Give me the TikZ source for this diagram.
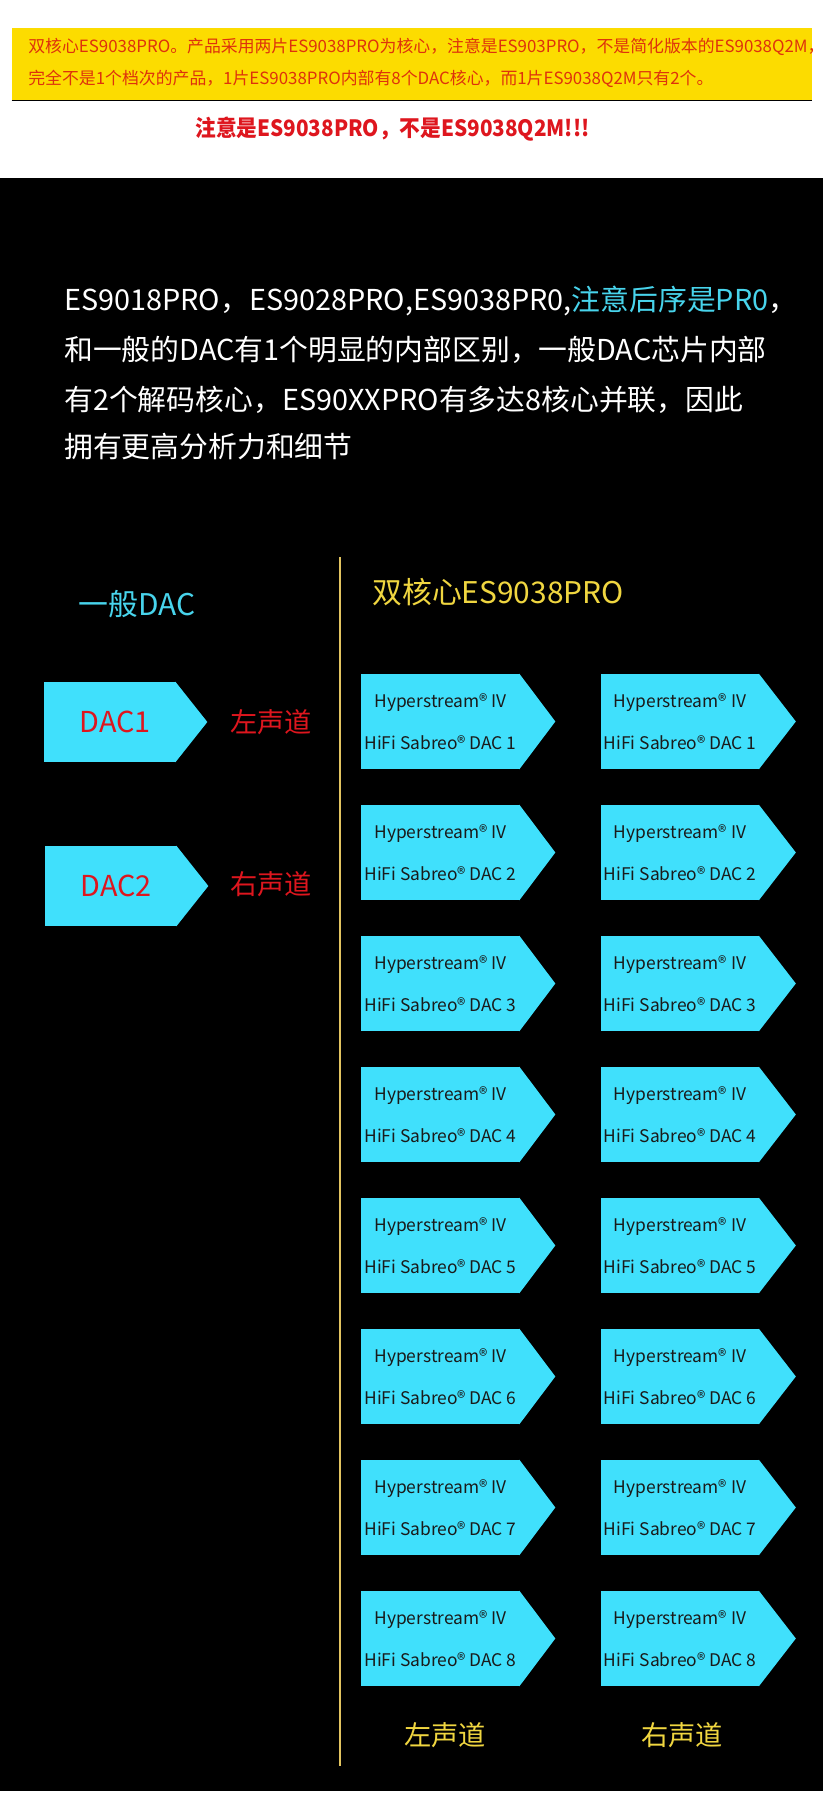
\documentclass[tikz,border=0pt]{standalone}
\usepackage{fontspec}
\setmainfont{Noto Sans CJK SC}
\usepackage{xcolor}
\definecolor{dcyan}{RGB}{64,224,252}
\definecolor{dcyantext}{RGB}{72,212,236}
\definecolor{dyellow}{RGB}{240,214,64}
\definecolor{dred}{RGB}{222,22,30}
\definecolor{dbanner}{RGB}{252,220,0}
\definecolor{dbannertext}{RGB}{222,50,12}
\definecolor{dgold}{RGB}{226,196,96}
\definecolor{dboxtext}{RGB}{26,26,26}
\usetikzlibrary{positioning,calc}

\tikzset{
  coreblock/.style={fill=dcyan,inner sep=0pt,minimum width=3.18cm,minimum height=1.9cm,
        align=center,text=dboxtext,font=\fontsize{9.9}{23.8}\selectfont},
  dacblock/.style={fill=dcyan,inner sep=0pt,minimum width=2.64cm,minimum height=1.6cm,
        text=dred,font=\fontsize{16.4}{18}\selectfont},
  chanlabel/.style={font=\fontsize{15.5}{18}\selectfont},
  introline/.style={anchor=west,text=white,inner sep=0pt,font=\fontsize{16.4}{20}\selectfont}
}

\begin{document}
\begin{tikzpicture}[x=0.02cm,y=-0.02cm]
  \useasboundingbox (0,0) rectangle (823,1817);
  % page background
  \fill[white] (0,0) rectangle (823,1817);
  \fill[black] (0,178) rectangle (823,1791);

  % Banner (top)
  \node[fill=dbanner,minimum width=16cm,minimum height=1.44cm,inner sep=0pt]
        (banner) at (412,64) {};
  \draw[black,thick] (banner.south west) -- (banner.south east);
  \node[anchor=west,inner sep=0pt,text=dbannertext,font=\fontsize{9.6}{12}\selectfont]
        (bannerA) at (28,47) {双核心ES9038PRO。产品采用两片ES9038PRO为核心，注意是ES903PRO，不是简化版本的ES9038Q2M，};
  \node[anchor=west,inner sep=0pt,text=dbannertext,font=\fontsize{9.6}{12}\selectfont]
        (bannerB) at (28,79) {完全不是1个档次的产品，1片ES9038PRO内部有8个DAC核心，而1片ES9038Q2M只有2个。};
  % Notice
  \node[anchor=west,inner sep=0pt,text=dred,font=\fontsize{12.8}{15}\selectfont\bfseries]
        (notice) at (195,129) {\scalebox{0.92}[1]{注意是ES9038PRO，不是ES9038Q2M!!!}};

  % Intro paragraph
  \node[introline] (introA) at (64,301) {ES9018PRO，ES9028PRO,ES9038PR0,\textcolor{dcyantext}{注意后序是PR0}，};
  \node[introline] (introB) at (64,350) {和一般的DAC有1个明显的内部区别，一般DAC芯片内部};
  \node[introline] (introC) at (64,400) {有2个解码核心，ES90XXPRO有多达8核心并联，因此};
  \node[introline] (introD) at (64,447) {拥有更高分析力和细节};

  % Column titles and divider
  \node[text=dcyantext,font=\fontsize{17}{20}\selectfont] (titleL) at (137,604) {一般DAC};
  \node[text=dyellow,font=\fontsize{17}{20}\selectfont] (titleR) at (498,592) {双核心ES9038PRO};
  \coordinate (divtop) at (340,557);
  \coordinate (divbot) at (340,1766);
  \draw[dgold,line width=1.2pt] (divtop) -- (divbot);

  % Ordinary DAC: two cores
  \node[dacblock] (dacA) at (110,722) {\hspace{6pt}DAC1};
  \node[dacblock] (dacB) at (111,886) {\hspace{6pt}DAC2};
  \foreach \n in {dacA,dacB}
    \fill[dcyan] ($(\n.north east)+(-1,0)$) -- ($(\n.east)+(31,0)$) -- ($(\n.south east)+(-1,0)$) -- cycle;
  \node[chanlabel,text=dred] (chanA) at (271,722) {左声道};
  \node[chanlabel,text=dred] (chanB) at (271,884) {右声道};

  % Dual ES9038PRO: 2 x 8 cores
  \foreach \i in {1,...,8}{
    \node[coreblock] (left\i) at (440.5,{721.5+131*(\i-1)})
          {Hyperstream® IV\\HiFi Sabreo® DAC \i};
    \node[coreblock] (right\i) at (680,{721.5+131*(\i-1)})
          {Hyperstream® IV\\HiFi Sabreo® DAC \i};
    \fill[dcyan] ($(left\i.north east)+(-1,0)$) -- ($(left\i.east)+(35,0)$) -- ($(left\i.south east)+(-1,0)$) -- cycle;
    \fill[dcyan] ($(right\i.north east)+(-1,0)$) -- ($(right\i.east)+(36,0)$) -- ($(right\i.south east)+(-1,0)$) -- cycle;
  }
  \node[chanlabel,text=dyellow] (chanL) at (445,1735) {左声道};
  \node[chanlabel,text=dyellow] (chanR) at (682,1735) {右声道};
\end{tikzpicture}
\end{document}
